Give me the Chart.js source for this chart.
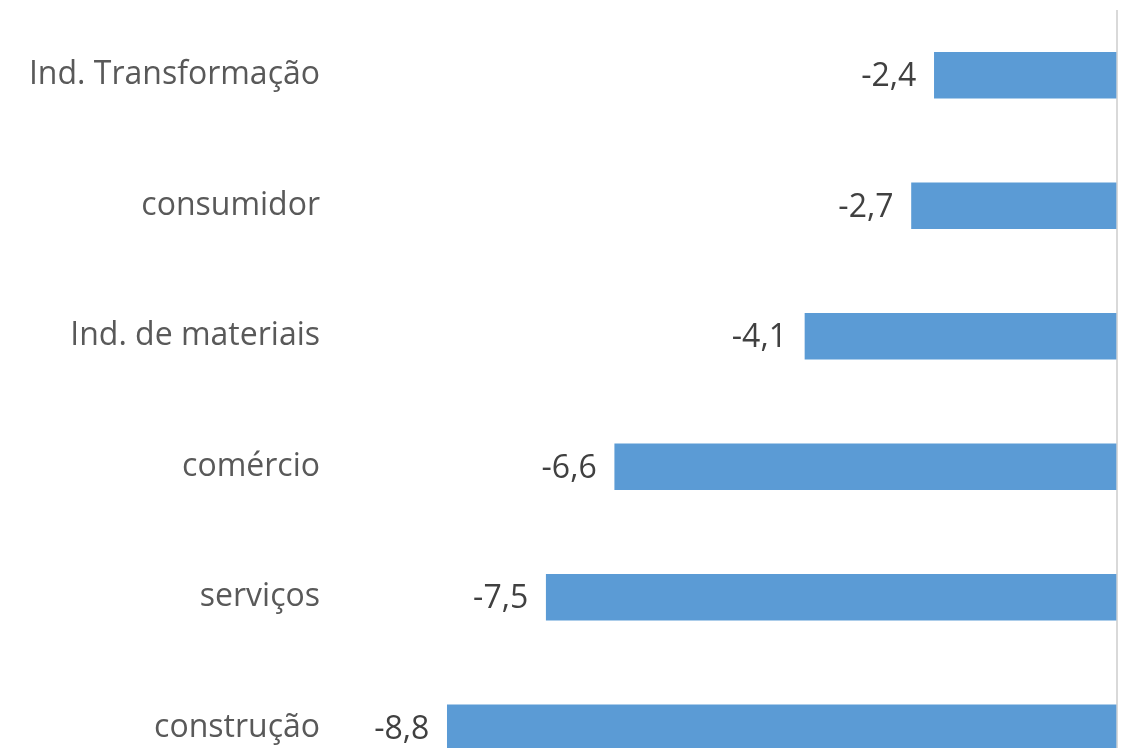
<!DOCTYPE html>
<html>
<head>
<meta charset="utf-8">
<script src="https://cdn.jsdelivr.net/npm/chart.js@4/dist/chart.umd.min.js"></script>
<style>
  html, body { margin: 0; padding: 0; background: #fff; overflow: hidden; }
  #wrap { width: 1128px; height: 800px; }
</style>
</head>
<body>
<div id="wrap"><canvas id="barChart"></canvas></div>
<script>
const categorias = ['Ind. Transformação', 'consumidor', 'Ind. de materiais', 'comércio', 'serviços', 'construção'];
const valores = [-2.4, -2.7, -4.1, -6.6, -7.5, -8.8];

// rotulos de valor a esquerda de cada barra
const rotulos = {
  id: 'rotulos',
  afterDatasetsDraw(chart) {
    const ctx = chart.ctx;
    const meta = chart.getDatasetMeta(0);
    ctx.save();
    ctx.font = '32px "Open Sans"';
    ctx.fillStyle = '#404040';
    ctx.textAlign = 'right';
    ctx.textBaseline = 'middle';
    meta.data.forEach((bar, i) => {
      const txt = valores[i].toFixed(1).replace('.', ',');
      ctx.fillText(txt, bar.x - 18, bar.y + 2);
    });
    ctx.restore();
  }
};

const ctx = document.getElementById('barChart');
new Chart(ctx, {
  type: 'bar',
  data: {
    labels: categorias,
    datasets: [{
      data: valores,
      backgroundColor: '#5B9BD5',
      barThickness: 46
    }]
  },
  options: {
    indexAxis: 'y',
    responsive: true,
    maintainAspectRatio: false,
    animation: false,
    layout: { padding: { top: 10, right: 11, bottom: 7, left: 0 } },
    plugins: {
      legend: { display: false },
      tooltip: { enabled: false }
    },
    scales: {
      x: {
        min: -10,
        max: 0,
        ticks: { display: false, stepSize: 1 },
        border: { display: false },
        grid: {
          drawTicks: false,
          lineWidth: 2,
          color: c => c.tick && c.tick.value === 0 ? '#d9d9d9' : 'rgba(0,0,0,0)'
        }
      },
      y: {
        afterFit: axis => {
          axis.width = 356;
          axis.paddingTop = 0;
          axis.paddingBottom = 0;
        },
        ticks: {
          color: '#595959',
          font: { family: 'Open Sans', size: 32 },
          padding: 36
        },
        border: { display: false },
        grid: { display: false, drawTicks: false }
      }
    }
  },
  plugins: [rotulos]
});
</script>
</body>
</html>
